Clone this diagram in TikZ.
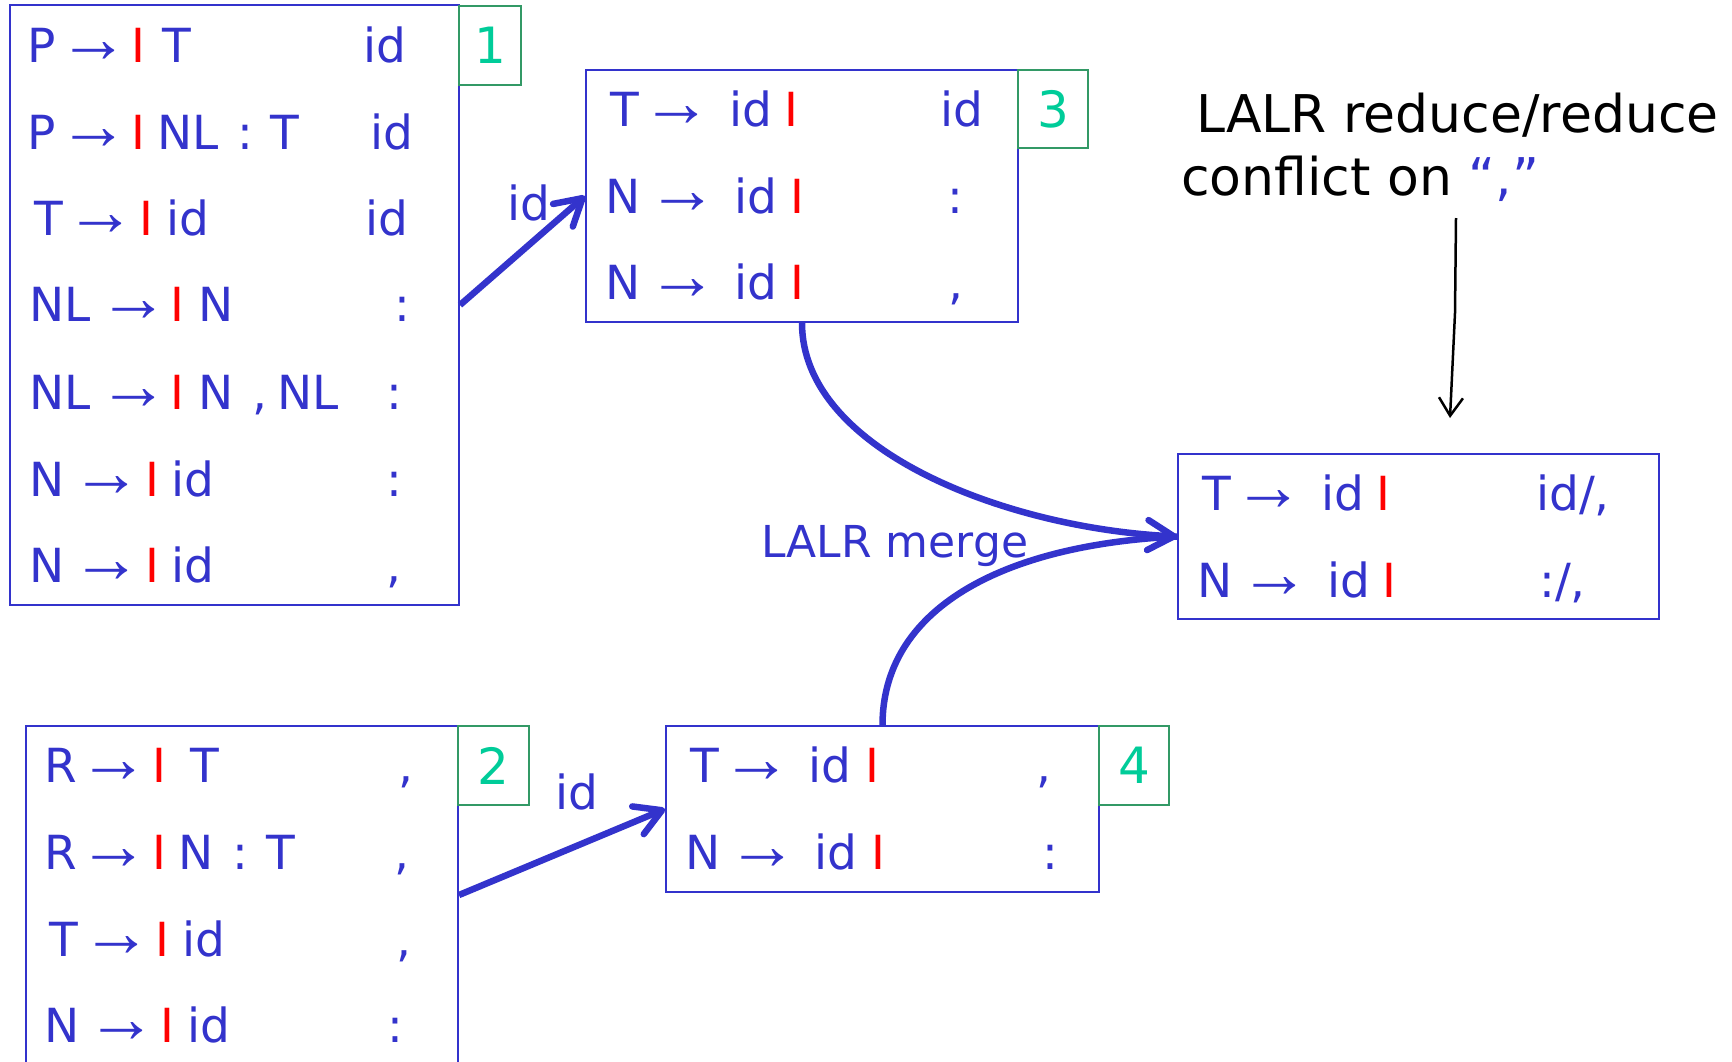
\documentclass[tikz,border=0pt]{standalone}
\usepackage{fontspec}
\setmainfont{DejaVu Sans}
\newfontfamily\arrfont{Liberation Serif}
\usetikzlibrary{arrows.meta}
\definecolor{myblue}{RGB}{51,51,204}
\definecolor{lblgreen}{RGB}{0,204,153}
\definecolor{lblline}{RGB}{51,153,102}
\newcommand\prodarrow{\scalebox{1.5}{\arrfont →}}
\tikzset{
  box/.style={draw=myblue, line width=2pt, inner sep=0pt, fill=none},
  lbl/.style={draw=lblline, line width=2pt, text=lblgreen, inner sep=0pt,
              font=\fontsize{50}{60}\selectfont},
  txt/.style={anchor=base west, inner sep=0pt, text=myblue, font=\fontsize{47}{56}\selectfont},
  bar/.style={anchor=base, inner sep=0pt, text=red, font=\fontsize{47}{56}\selectfont},
  sym/.style={anchor=base, inner sep=0pt, text=myblue, font=\fontsize{47}{56}\selectfont},
  flow/.style={draw=myblue, line width=6.5pt, -{Straight Barb[length=26pt,width=30pt,round]}},
  flownotip/.style={draw=myblue, line width=6.5pt},
  note/.style={anchor=base west, inner sep=0pt, text=black, font=\fontsize{52}{62}\selectfont},
}
\begin{document}
\begin{tikzpicture}[x=1pt,y=-1pt]
\useasboundingbox (0,0) rectangle (1732,1061);
\clip (0,0) rectangle (1732,1061);
\fill[white] (0,0) rectangle (1732,1061);

% ---------- boxes ----------
\node[box, minimum width=449pt, minimum height=600pt] (b1) at (234.5,305) {};
\node[lbl, minimum width=62pt, minimum height=79pt] (l1) at (490,45) {1};
\node[box, minimum width=432pt, minimum height=252pt] (b3) at (802,196) {};
\node[lbl, minimum width=70pt, minimum height=78pt] (l3) at (1053,109) {3};
\node[box, minimum width=481pt, minimum height=165pt] (bm) at (1418.5,536.5) {};
\node[box, minimum width=432pt, minimum height=374pt] (b2) at (242,913) {};
\node[lbl, minimum width=71pt, minimum height=79pt] (l2) at (493.5,765.5) {2};
\node[box, minimum width=433pt, minimum height=166pt] (b4) at (882.5,809) {};
\node[lbl, minimum width=70pt, minimum height=79pt] (l4) at (1134,765.5) {4};

% ---------- state 1 ----------
\node[txt] (a1a) at (27.4,62) {P};
\node[txt] (a1b) at (58.2,62) {\prodarrow};
\node[bar] (a1c) at (138,62) {I};
\node[txt] (a1d) at (162,62) {T};
\node[txt] (a1e) at (363.6,62) {id};

\node[txt] (a2a) at (27.4,149) {P};
\node[txt] (a2b) at (58.2,149) {\prodarrow};
\node[bar] (a2c) at (138,149) {I};
\node[txt] (a2d) at (157.4,149) {NL};
\node[sym] (a2e) at (245,149) {:};
\node[txt] (a2f) at (270,149) {T};
\node[txt] (a2g) at (370.6,149) {id};

\node[txt] (a3a) at (34,235) {T};
\node[txt] (a3b) at (65.2,235) {\prodarrow};
\node[bar] (a3c) at (146,235) {I};
\node[txt] (a3d) at (166.6,235) {id};
\node[txt] (a3e) at (365.6,235) {id};

\node[txt] (a4a) at (29.4,321) {NL};
\node[txt] (a4b) at (98.2,321) {\prodarrow};
\node[bar] (a4c) at (177,321) {I};
\node[txt] (a4d) at (198.4,321) {N};
\node[sym] (a4e) at (402,321) {:};

\node[txt] (a5a) at (29.4,409) {NL};
\node[txt] (a5b) at (98.2,409) {\prodarrow};
\node[bar] (a5c) at (177,409) {I};
\node[txt] (a5d) at (198.4,409) {N};
\node[sym] (a5e) at (260,409) {,};
\node[txt] (a5f) at (277.4,409) {NL};
\node[sym] (a5g) at (394,409) {:};

\node[txt] (a6a) at (29.4,496) {N};
\node[txt] (a6b) at (71.2,496) {\prodarrow};
\node[bar] (a6c) at (152,496) {I};
\node[txt] (a6d) at (171.6,496) {id};
\node[sym] (a6e) at (394,496) {:};

\node[txt] (a7a) at (29.4,582) {N};
\node[txt] (a7b) at (71.2,582) {\prodarrow};
\node[bar] (a7c) at (152,582) {I};
\node[txt] (a7d) at (171.6,582) {id};
\node[sym] (a7e) at (394,582) {,};

% ---------- state 3 ----------
\node[txt] (c1a) at (610,126) {T};
\node[txt] (c1b) at (641.2,126) {\prodarrow};
\node[txt] (c1c) at (729.6,126) {id};
\node[bar] (c1d) at (791,126) {I};
\node[txt] (c1e) at (940.6,126) {id};

\node[txt] (c2a) at (605.4,213) {N};
\node[txt] (c2b) at (647.2,213) {\prodarrow};
\node[txt] (c2c) at (734.6,213) {id};
\node[bar] (c2d) at (797,213) {I};
\node[sym] (c2e) at (955,213) {:};

\node[txt] (c3a) at (605.4,299) {N};
\node[txt] (c3b) at (647.2,299) {\prodarrow};
\node[txt] (c3c) at (734.6,299) {id};
\node[bar] (c3d) at (797,299) {I};
\node[sym] (c3e) at (956,299) {,};

% ---------- merged state ----------
\node[txt] (m1a) at (1202,510) {T};
\node[txt] (m1b) at (1233.2,510) {\prodarrow};
\node[txt] (m1c) at (1321.6,510) {id};
\node[bar] (m1d) at (1383,510) {I};
\node[txt] (m1e) at (1536,510) {id/,};

\node[txt] (m2a) at (1197.4,597) {N};
\node[txt] (m2b) at (1239.2,597) {\prodarrow};
\node[txt] (m2c) at (1327.6,597) {id};
\node[bar] (m2d) at (1389,597) {I};
\node[txt] (m2e) at (1539,597) {:/,};

% ---------- state 2 ----------
\node[txt] (d1a) at (44.4,782) {R};
\node[txt] (d1b) at (78.2,782) {\prodarrow};
\node[bar] (d1c) at (159,782) {I};
\node[txt] (d1d) at (190,782) {T};
\node[sym] (d1e) at (406,782) {,};

\node[txt] (d2a) at (44.4,869) {R};
\node[txt] (d2b) at (78.2,869) {\prodarrow};
\node[bar] (d2c) at (159,869) {I};
\node[txt] (d2d) at (178.4,869) {N};
\node[sym] (d2e) at (240,869) {:};
\node[txt] (d2f) at (266,869) {T};
\node[sym] (d2g) at (402,869) {,};

\node[txt] (d3a) at (49,956) {T};
\node[txt] (d3b) at (81.2,956) {\prodarrow};
\node[bar] (d3c) at (162,956) {I};
\node[txt] (d3d) at (182.6,956) {id};
\node[sym] (d3e) at (404,956) {,};

\node[txt] (d4a) at (44.4,1042) {N};
\node[txt] (d4b) at (86.2,1042) {\prodarrow};
\node[bar] (d4c) at (167,1042) {I};
\node[txt] (d4d) at (187.6,1042) {id};
\node[sym] (d4e) at (395,1042) {:};

% ---------- state 4 ----------
\node[txt] (e1a) at (690,782) {T};
\node[txt] (e1b) at (721.2,782) {\prodarrow};
\node[txt] (e1c) at (808.6,782) {id};
\node[bar] (e1d) at (872,782) {I};
\node[sym] (e1e) at (1044,782) {,};

\node[txt] (e2a) at (685.4,869) {N};
\node[txt] (e2b) at (727.2,869) {\prodarrow};
\node[txt] (e2c) at (814.6,869) {id};
\node[bar] (e2d) at (878,869) {I};
\node[sym] (e2e) at (1050,869) {:};

% ---------- transitions ----------
\draw[flow] (b1.east) -- (b3.west);
\node[txt, anchor=center] (id1) at (529,203) {id};
\draw[flow] ([yshift=18pt]b2.east) -- (b4.west);
\node[txt, anchor=center] (id2) at (577,792) {id};

\draw[flownotip] (b4.north) .. controls (882.5,610) and (1000,545) .. (bm.west);
\draw[flow] (b3.south) .. controls (802,450) and (1005,528) .. (bm.west);
\node[txt, font=\fontsize{44}{52}\selectfont] (merge) at (761,557) {LALR merge};

% ---------- annotation ----------
\node[note] (n1) at (1196,132) {LALR reduce/reduce};
\node[note] (n2) at (1181,195) {conflict on \textcolor{myblue}{“,”}};
\coordinate (k0) at (1456,218);
\coordinate (k1) at (1455,313);
\coordinate (k2) at (1450,418);
\draw[black, line width=2.5pt, -{Straight Barb[length=18pt,width=24pt]}] (k0) -- (k1) -- (k2);
\end{tikzpicture}
\end{document}
